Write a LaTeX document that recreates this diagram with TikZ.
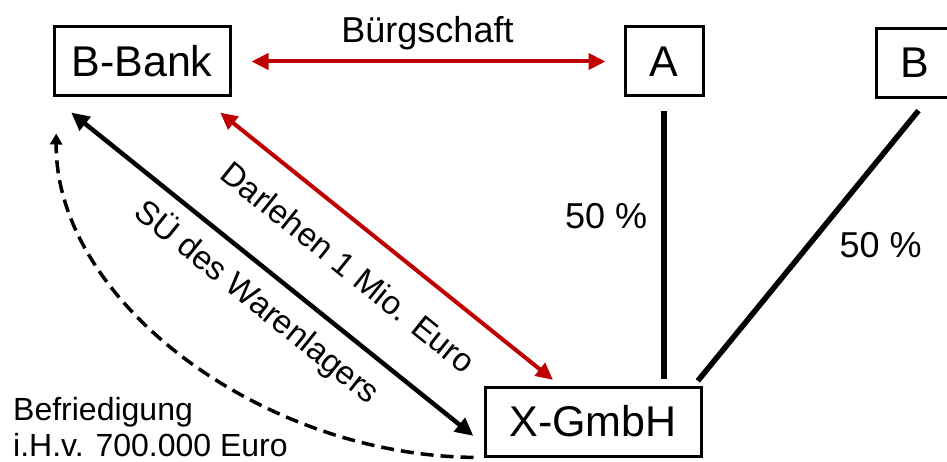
\documentclass[tikz,border=0pt]{standalone}
\usepackage{fontspec}
\setmainfont{Liberation Sans}
\usetikzlibrary{arrows.meta}
\definecolor{loanred}{RGB}{192,0,0}

\begin{document}
\begin{tikzpicture}[x=1pt, y=-1pt,
    party/.style={draw, line width=3pt, inner sep=0pt, minimum height=69pt, font=\fontsize{43}{50}\selectfont},
    lbl/.style={inner sep=0pt, font=\fontsize{36}{42}\selectfont},
    slbl/.style={inner sep=0pt, font=\fontsize{33}{38}\selectfont},
    redarrow/.style={draw=loanred, line width=4pt, {Triangle[length=17pt,width=16pt]}-{Triangle[length=17pt,width=16pt]}},
    blackarrow/.style={draw, line width=4.5pt, {Triangle[length=18pt,width=17pt]}-{Triangle[length=18pt,width=17pt]}},
    share/.style={draw, line width=5.5pt},
    settle/.style={draw, line width=3.5pt, dash pattern=on 13pt off 7pt, -{Triangle[length=11pt,width=12pt]}}]
    % Fix the page size
    \useasboundingbox (0,0) rectangle (947,462);

    % Draw the parties
    \node[party, minimum width=176pt] (bbank) at (142,61.5) {B-Bank};
    \node[party, minimum width=78pt] (a) at (664,61.5) {A};
    \node[party, minimum width=78pt] (b) at (915,63) {B};
    \node[party, minimum width=216pt] (xgmbh) at (593,421.5) {X-GmbH};

    % Draw the shares
    \draw[share, shorten <=14pt, shorten >=7pt] (a.south) -- (a.south |- xgmbh.north)
        node[lbl, pos=0.412, left=14pt] {50 \%};
    \draw[share, shorten <=15pt, shorten >=6pt] ([xshift=13pt]b.south) -- ([xshift=101pt]xgmbh.north)
        node[lbl, pos=0.509, right=28pt] {50 \%};

    % Draw the credit relations
    \draw[redarrow, shorten <=20pt, shorten >=18pt] (bbank.east) -- (a.west)
        node[lbl, midway, anchor=base, yshift=18.5pt] {Bürgschaft};
    \draw[redarrow, shorten <=24pt, shorten >=9pt] ([xshift=-30pt]bbank.south east) -- ([xshift=-33pt]xgmbh.north)
        node[slbl, pos=0.48, sloped, below=26pt] {Darlehen 1 Mio. Euro};
    \draw[blackarrow, shorten <=24pt, shorten >=13pt] (bbank.south west) -- ([yshift=-22.5pt]xgmbh.west)
        node[slbl, pos=0.52, sloped, below=12pt] {SÜ des Warenlagers};

    % Draw the settlement
    \draw[settle, shorten <=10pt, shorten >=36pt] (xgmbh.south west) .. controls (260,455) and (55,300) .. ([xshift=4pt]bbank.south west);
    \node[inner sep=0pt, anchor=south west, align=left, font=\fontsize{32}{36}\selectfont] (befr) at (13,457) {Befriedigung\\i.H.v. 700.000 Euro};
\end{tikzpicture}
\end{document}
